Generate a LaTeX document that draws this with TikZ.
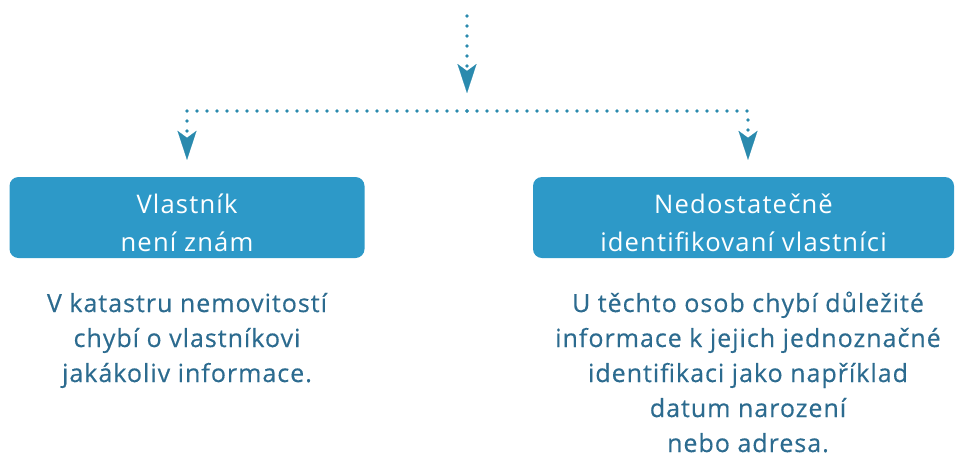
\documentclass[tikz,border=0pt]{standalone}
\usepackage{fontspec}
\setmainfont{Open Sans}[LetterSpace=4.5]
\newfontfamily\notefont{Open Sans}[LetterSpace=4, FakeBold=0.4]
\usetikzlibrary{arrows.meta}
\definecolor{boxblue}{HTML}{2D99C8}
\definecolor{linkblue}{HTML}{2A8AAE}
\definecolor{noteblue}{HTML}{2C6B8F}

\begin{document}
\begin{tikzpicture}[x=1pt,y=1pt,
  headbox/.style={fill=boxblue, rounded corners=9pt, text=white, align=center,
    font=\fontsize{25.6}{38}\selectfont, minimum height=81pt, inner sep=0pt,
    text height=67pt, text depth=0pt},
  note/.style={text=noteblue, align=center, font=\notefont\fontsize{25}{35}\selectfont,
    inner sep=0pt, anchor=base},
  flow/.style={draw=linkblue, line width=3.8pt, line cap=round, dash pattern=on 0pt off 10pt,
    -{Stealth[length=29pt,width=19pt,inset=7pt,line width=0.1pt]}}]
\useasboundingbox (0,0) rectangle (955,-464);

\coordinate (source) at (467,-16);
\coordinate (split) at (467,-111);

\node[headbox, minimum width=355pt] (owner) at (187,-217.5) {Vlastník\\není znám};
\node[headbox, minimum width=421pt] (partial) at (743.5,-217.5) {Nedostatečně\\identifikovaní vlastníci};

\node[note] (ownertext) at (187,-382) {V katastru nemovitostí\\chybí o vlastníkovi\\jakákoliv informace.};
\node[note] (partialtext) at (748,-452) {U těchto osob chybí důležité\\informace k jejich jednoznačné\\identifikaci jako například\\datum narození\\nebo adresa.};

\draw[flow, shorten >=18pt] (source) -- (split);
\draw[flow, shorten >=17pt] (split) -| (owner.north);
\draw[flow, shorten >=17pt] (split) -| ([xshift=4.5pt]partial.north);
\end{tikzpicture}
\end{document}
